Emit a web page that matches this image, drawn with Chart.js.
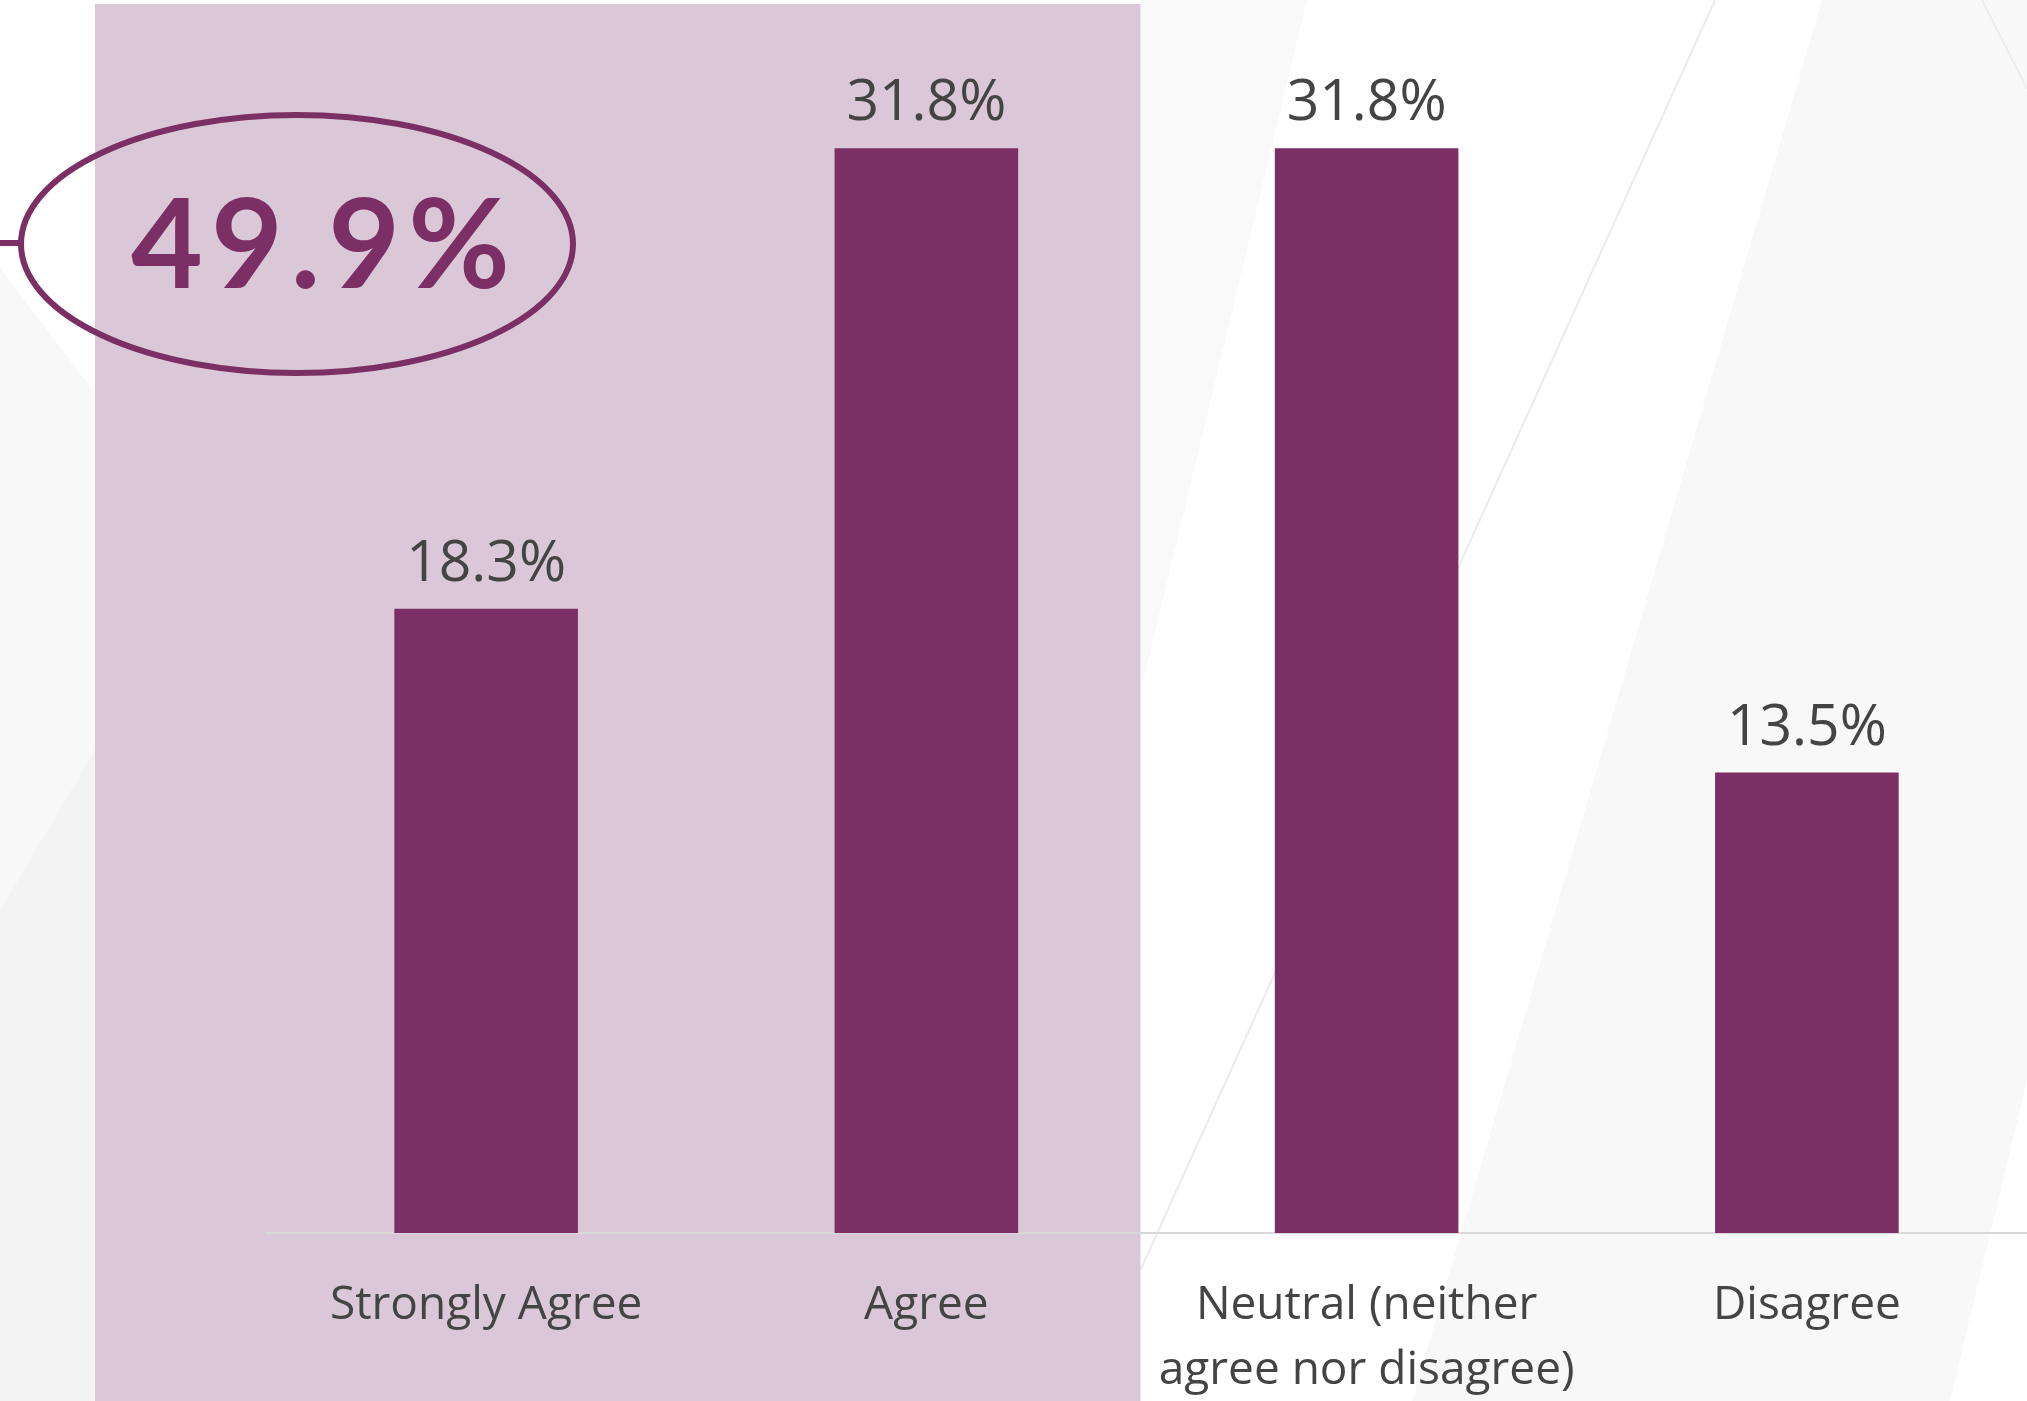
<!DOCTYPE html>
<html lang="en">
<head>
    <meta charset="UTF-8">
    <title>Agreement Survey</title>
    <style>
        body {
            margin: 0;
            padding: 0;
            background-color: #fff;
        }
        .chart-container {
            position: relative;
            width: 2027px;
            height: 1401px;
        }
    </style>
    <script src="https://cdn.jsdelivr.net/npm/chart.js"></script>
</head>
<body>
    <div class="chart-container">
        <canvas id="agreeChart"></canvas>
    </div>
    <script>
        // chart data
        const categories = ['Strongly Agree', 'Agree', ['Neutral (neither', 'agree nor disagree)'], 'Disagree'];
        const shares = [18.3, 31.8, 31.8, 13.5];
        const agreeTotal = '49.9%';

        const barColor = '#7b2f65';
        const textColor = '#444444';

        // faint slide decoration + highlighted band behind the first two bars
        const backdrop = {
            id: 'backdrop',
            beforeDraw(chart) {
                const ctx = chart.ctx;
                const x = chart.scales.x;
                ctx.save();
                ctx.fillStyle = '#f8f8f8';
                ctx.beginPath();
                ctx.moveTo(0, 268); ctx.lineTo(95, 393); ctx.lineTo(95, 1401); ctx.lineTo(0, 1401);
                ctx.fill();
                ctx.fillStyle = '#f3f3f3';
                ctx.beginPath();
                ctx.moveTo(0, 911); ctx.lineTo(95, 750); ctx.lineTo(95, 1401); ctx.lineTo(0, 1401);
                ctx.fill();
                ctx.fillStyle = '#f9f9f9';
                ctx.beginPath();
                ctx.moveTo(1141, 0); ctx.lineTo(1307, 0); ctx.lineTo(1141, 690);
                ctx.fill();
                ctx.fillStyle = '#f8f8f8';
                ctx.beginPath();
                ctx.moveTo(1822, 0); ctx.lineTo(2027, 0); ctx.lineTo(2027, 1080);
                ctx.lineTo(1950, 1401); ctx.lineTo(1412, 1401);
                ctx.fill();
                ctx.strokeStyle = '#ececec';
                ctx.lineWidth = 2;
                ctx.beginPath();
                ctx.moveTo(1715, 0); ctx.lineTo(1141, 1269);
                ctx.moveTo(1982, 0); ctx.lineTo(2027, 89);
                ctx.stroke();

                const right = (x.getPixelForValue(1) + x.getPixelForValue(2)) / 2 - 6;
                ctx.fillStyle = '#dac8d8';
                ctx.fillRect(95, 4, right - 95, chart.height - 4);
                ctx.restore();
            }
        };

        // value labels above bars and the circled total
        const annotations = {
            id: 'annotations',
            afterDatasetsDraw(chart) {
                const ctx = chart.ctx;
                const meta = chart.getDatasetMeta(0);
                ctx.save();
                ctx.fillStyle = textColor;
                ctx.font = '57px "Open Sans"';
                ctx.textAlign = 'center';
                ctx.textBaseline = 'alphabetic';
                meta.data.forEach((bar, i) => {
                    ctx.fillText(shares[i].toFixed(1) + '%', bar.x, bar.y - 28);
                });

                ctx.strokeStyle = barColor;
                ctx.lineWidth = 6;
                ctx.beginPath();
                ctx.moveTo(0, 243);
                ctx.lineTo(22, 243);
                ctx.stroke();
                ctx.beginPath();
                ctx.ellipse(297, 244, 276, 129, 0, 0, Math.PI * 2);
                ctx.stroke();

                ctx.fillStyle = barColor;
                ctx.font = 'bold 124px Lato';
                ctx.letterSpacing = '8px';
                ctx.textAlign = 'left';
                ctx.fillText(agreeTotal, 131, 288);
                ctx.restore();
            }
        };

        const ctx = document.getElementById('agreeChart').getContext('2d');
        new Chart(ctx, {
            type: 'bar',
            data: {
                labels: categories,
                datasets: [{
                    data: shares,
                    backgroundColor: barColor,
                    borderWidth: 0,
                    categoryPercentage: 1,
                    barPercentage: 0.417
                }]
            },
            options: {
                responsive: true,
                maintainAspectRatio: false,
                animation: false,
                layout: {
                    padding: { top: 5, left: 266, right: 0, bottom: 0 }
                },
                plugins: {
                    legend: { display: false },
                    tooltip: { enabled: false }
                },
                scales: {
                    x: {
                        grid: { display: false, drawTicks: false },
                        border: { display: true, color: '#d9d9d9', width: 2 },
                        ticks: {
                            color: textColor,
                            padding: 41,
                            font: { family: '"Open Sans"', size: 46, lineHeight: 1.4 },
                            maxRotation: 0,
                            autoSkip: false
                        },
                        afterFit(scale) {
                            scale.height = 168;
                        }
                    },
                    y: {
                        display: false,
                        min: 0,
                        max: 36
                    }
                }
            },
            plugins: [backdrop, annotations]
        });
    </script>
</body>
</html>
